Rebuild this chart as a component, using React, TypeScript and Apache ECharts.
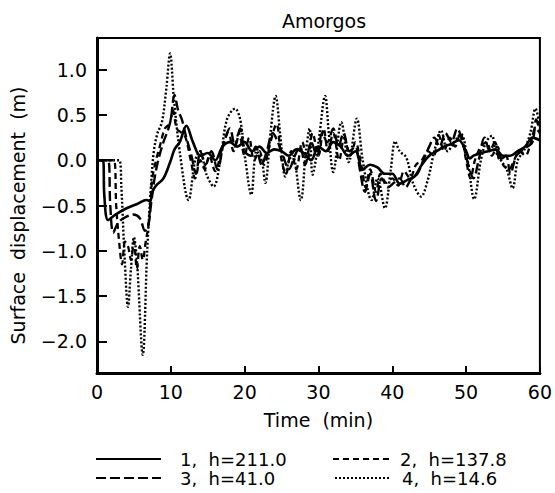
import React, { useEffect, useRef } from "react";
import * as echarts from "echarts";

// ---- data (time in min, surface displacement in m) ----
const time1 = [0, 0.8, 1.0, 1.5, 2.5, 4, 5.5, 6.7, 7.2, 7.5, 8, 9, 10, 10.5, 11.2, 12.1, 13, 14, 15, 16, 17, 18, 19, 20, 21, 22, 23, 24, 25, 26, 27, 28, 29, 30, 31, 32, 33, 34, 35, 36, 37, 38, 39, 40, 41, 42, 43, 44, 45, 46, 47, 48, 49, 50, 50.5, 51, 52, 53, 54, 55, 56, 57, 58, 59, 60];
const disp1 = [0, 0, -0.4, -0.66, -0.6, -0.53, -0.48, -0.44, -0.45, -0.35, -0.28, -0.2, 0.0, 0.12, 0.2, 0.38, 0.2, 0.05, 0.08, 0.0, 0.15, 0.2, 0.15, 0.2, 0.1, 0.15, 0.08, 0.12, 0.1, 0.05, 0.12, 0.08, 0.0, 0.15, 0.1, 0.2, 0.15, 0.05, 0.1, -0.1, -0.05, -0.08, -0.15, -0.15, -0.26, -0.22, -0.18, -0.05, 0.05, 0.1, 0.15, 0.18, 0.22, 0.1, 0.02, 0.05, 0.08, 0.1, 0.12, 0.05, 0.05, 0.1, 0.15, 0.25, 0.22];

const time2 = [0, 2.3, 2.6, 3.0, 3.4, 3.8, 4.2, 4.6, 5.0, 5.4, 5.8, 6.2, 6.6, 7.0, 7.5, 8, 8.5, 9.2, 9.8, 10.3, 10.8, 11.5, 12, 12.7, 13.3, 14, 14.6, 15.2, 16, 17, 17.8, 18.5, 19.2, 20, 20.6, 21.3, 22, 22.6, 23.5, 24.3, 25, 25.6, 26.3, 27, 27.8, 28.5, 29.2, 30, 30.7, 31.3, 32, 32.8, 33.5, 34.3, 35, 35.8, 36.4, 37, 37.8, 38.4, 39.2, 40, 40.8, 41.6, 42.4, 43.2, 44, 44.8, 45.6, 46.3, 47, 47.8, 48.5, 49.2, 50, 50.6, 51.2, 52, 52.8, 53.5, 54.2, 55, 55.8, 56.5, 57.2, 58, 58.8, 59.4, 60];
const disp2 = [0, 0, -0.5, -0.9, -1.15, -0.9, -0.95, -1.1, -0.9, -1.2, -0.95, -1.1, -0.9, -0.7, -0.2, 0.0, 0.15, 0.35, 0.4, 0.55, 0.35, 0.3, 0.25, 0.0, -0.2, 0.0, -0.1, 0.05, -0.12, 0.15, 0.3, 0.1, 0.3, 0.05, 0.25, 0.0, 0.1, -0.05, 0.2, 0.4, 0.0, -0.15, 0.1, -0.1, 0.2, 0.0, 0.3, 0.05, 0.35, 0.1, 0.3, 0.0, 0.25, 0.05, 0.2, -0.05, -0.3, -0.1, -0.35, -0.15, -0.25, -0.2, -0.28, -0.12, -0.2, -0.05, 0.0, 0.1, 0.05, 0.28, 0.1, 0.25, 0.15, 0.3, 0.0, -0.2, 0.0, 0.15, 0.2, 0.05, 0.15, -0.05, -0.1, 0.0, 0.1, 0.05, 0.2, 0.35, 0.3];

const time3 = [0, 1.5, 1.8, 2.2, 2.8, 3.6, 4.9, 5.8, 6.5, 7.0, 7.3, 7.8, 8.3, 9.0, 9.6, 10.0, 10.5, 11.0, 11.5, 12.1, 12.8, 13.4, 14.0, 14.7, 15.5, 16.3, 17.2, 18, 18.7, 19.4, 20, 20.8, 21.5, 22.3, 23, 23.8, 24.5, 25.2, 26, 26.8, 27.5, 28.2, 29, 29.8, 30.5, 31.2, 32, 32.7, 33.4, 34.2, 35, 35.6, 36.3, 37, 37.8, 38.6, 39.4, 40.2, 41, 41.8, 42.6, 43.4, 44.2, 45, 45.7, 46.4, 47.2, 48, 48.8, 49.5, 50.3, 51, 51.7, 52.5, 53.2, 53.9, 54.6, 55.4, 56, 56.8, 57.5, 58.3, 59, 59.5, 60];
const disp3 = [0, 0, -0.5, -0.8, -0.7, -0.64, -0.6, -0.64, -0.78, -0.7, -0.5, -0.2, 0.0, 0.2, 0.33, 0.45, 0.72, 0.55, 0.45, 0.25, 0.05, -0.15, 0.1, -0.05, 0.1, -0.1, 0.2, 0.35, 0.15, 0.35, 0.1, 0.05, 0.15, -0.05, 0.1, 0.3, 0.2, 0.05, -0.1, 0.05, 0.15, -0.05, 0.2, 0.05, 0.3, 0.2, 0.35, 0.15, 0.3, 0.1, 0.15, -0.1, -0.35, -0.15, -0.45, -0.2, -0.3, -0.25, -0.2, -0.3, -0.2, -0.15, 0.0, 0.15, 0.25, 0.15, 0.3, 0.2, 0.35, 0.2, -0.05, -0.2, 0.0, 0.25, 0.1, 0.2, 0.0, 0.05, -0.15, 0.05, 0.1, 0.15, 0.2, 0.45, 0.3];

const time4 = [0, 3.0, 3.3, 3.7, 4.2, 4.6, 5.0, 5.4, 6.2, 6.8, 7.3, 7.7, 8.2, 8.8, 9.4, 9.9, 10.4, 11.2, 12.4, 13.3, 14.0, 14.8, 15.8, 16.7, 17.6, 18.7, 19.4, 20.1, 20.9, 21.6, 22.3, 22.8, 23.5, 24.2, 24.8, 25.5, 26.0, 26.5, 27.6, 28.3, 28.8, 29.2, 30.0, 30.9, 31.4, 32.0, 33.1, 34.1, 35.2, 36.0, 37.2, 38.0, 39.0, 39.8, 40.4, 41.0, 41.9, 42.8, 43.9, 44.8, 45.7, 46.6, 47.5, 48.4, 49.3, 50.2, 51.1, 52.0, 52.7, 53.5, 54.0, 54.7, 55.5, 56.3, 57.0, 57.8, 58.7, 59.4, 60];
const disp4 = [0, 0, -0.3, -1.0, -1.62, -1.2, -0.85, -1.1, -2.15, -1.0, -0.3, 0.1, 0.3, 0.42, 0.8, 1.18, 0.7, 0.1, -0.44, 0.0, 0.1, -0.15, -0.29, 0.0, 0.45, 0.57, 0.45, 0.0, -0.38, 0.1, 0.0, -0.25, 0.3, 0.71, 0.3, -0.18, 0.0, 0.05, -0.44, 0.1, 0.35, -0.16, 0.2, 0.71, 0.3, -0.13, 0.42, -0.02, 0.46, 0.0, -0.44, -0.2, -0.53, -0.1, 0.21, 0.1, 0.03, -0.25, -0.4, -0.22, 0.1, 0.33, 0.1, 0.2, 0.29, 0.0, -0.43, 0.0, 0.2, 0.27, 0.1, 0.0, -0.1, -0.31, 0.0, 0.1, 0.3, 0.57, 0.37];

const seriesNames = ["1,  h=211.0", "2,  h=137.8", "3,  h=41.0", "4,  h=14.6"];
const xTicks = [0, 10, 20, 30, 40, 50, 60];
const yTicks = [-2.0, -1.5, -1.0, -0.5, 0.0, 0.5, 1.0];

const FONT = "DejaVu Sans";

function pairs(t: number[], v: number[]) {
  return t.map((x, i) => [x, v[i]]);
}

export default function App() {
  const ref = useRef<HTMLDivElement>(null);
  useEffect(() => {
    if (!ref.current) return;
    const chart = echarts.init(ref.current, undefined, { renderer: "svg" });
    const styles = [
      { type: "solid" as any, width: 2.6 },
      { type: [6, 4] as any, width: 2.3 },
      { type: [10, 4] as any, width: 2.4 },
      { type: [2, 2] as any, width: 2.4 },
    ];
    const datas = [pairs(time1, disp1), pairs(time2, disp2), pairs(time3, disp3), pairs(time4, disp4)];
    const legendPos = [
      { left: 95, top: 450, w: 65, pad: 14 },
      { left: 332, top: 450, w: 60, pad: 2 },
      { left: 95, top: 469, w: 65, pad: 14 },
      { left: 334, top: 469, w: 56, pad: 6 },
    ];
    chart.setOption({
      animation: false,
      backgroundColor: "#fff",
      color: ["#000", "#000", "#000", "#000"],
      textStyle: { fontFamily: FONT, color: "#000" },
      title: {
        text: "Amorgos",
        left: 319,
        textAlign: "center",
        top: 6,
        textStyle: { fontFamily: FONT, fontSize: 19, fontWeight: "normal", color: "#000" },
      },
      grid: {
        left: 96,
        right: 13,
        top: 38,
        bottom: 120,
        show: true,
        borderColor: "#000",
        borderWidth: 2,
      },
      legend: legendPos.map((p, i) => ({
        data: [seriesNames[i]],
        left: p.left,
        top: p.top,
        padding: 0,
        itemWidth: p.w,
        itemHeight: 12,
        itemStyle: { color: "rgba(0,0,0,0)", borderColor: "rgba(0,0,0,0)", borderWidth: 0 },
        textStyle: { fontFamily: FONT, fontSize: 18, color: "#000", padding: [0, 0, 0, p.pad], lineHeight: 16 },
        selectedMode: false,
      })),
      xAxis: {
        type: "value",
        min: 0,
        max: 60,
        interval: 10,
        name: "Time  (min)",
        nameLocation: "middle",
        nameGap: 37,
        nameTextStyle: { fontFamily: FONT, fontSize: 19, color: "#000" },
        axisLine: { show: true, onZero: false, lineStyle: { color: "#000", width: 3 } },
        axisTick: { show: true, inside: true, length: 7, lineStyle: { color: "#000", width: 2 } },
        axisLabel: {
          fontFamily: FONT,
          fontSize: 19,
          color: "#000",
          margin: 9,
          customValues: xTicks,
          formatter: (v: number) => String(v),
        },
        splitLine: { show: false },
      },
      yAxis: {
        type: "value",
        min: -2.35,
        max: 1.35,
        name: "Surface  displacement  (m)",
        nameLocation: "middle",
        nameGap: 70,
        nameTextStyle: { fontFamily: FONT, fontSize: 19, color: "#000", padding: [0, 20, 0, 0] },
        axisLine: { show: true, onZero: false, lineStyle: { color: "#000", width: 3 } },
        axisTick: { show: true, inside: true, length: 10, customValues: yTicks, lineStyle: { color: "#000", width: 2 } },
        axisLabel: {
          fontFamily: FONT,
          fontSize: 19,
          color: "#000",
          margin: 10,
          customValues: yTicks,
          formatter: (v: number) => (v < 0 ? "\u2212" + Math.abs(v).toFixed(1) : v.toFixed(1)),
        },
        splitLine: { show: false },
      },
      series: datas.map((d, i) => ({
        name: seriesNames[i],
        type: "line",
        data: d,
        showSymbol: false,
        symbol: "none",
        smooth: 0.35,
        itemStyle: { color: "#000" },
        lineStyle: { color: "#000", ...styles[i] },
        z: 4 - i,
      })),
    });
    return () => chart.dispose();
  }, []);
  return <div ref={ref} style={{ position: "fixed", left: 0, top: 0, width: 555, height: 493 }} />;
}
